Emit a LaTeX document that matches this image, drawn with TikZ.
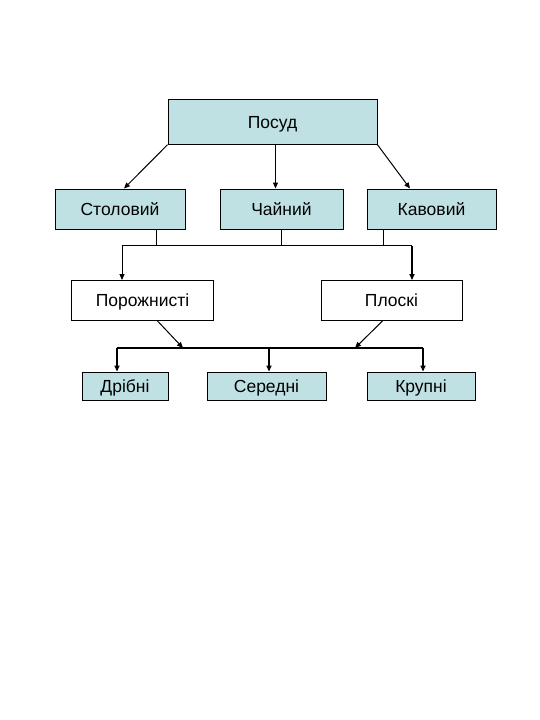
\documentclass[tikz,border=0pt]{standalone}
\usepackage{fontspec}
\setmainfont{Liberation Sans}
\usetikzlibrary{arrows.meta,calc}
\definecolor{boxblue}{RGB}{192,225,228}
\tikzset{
  box/.style={draw=black, line width=0.9pt, inner sep=0pt, font=\fontsize{17.5}{20}\selectfont, text=black, text height=12.5pt, text depth=0pt},
  bluebox/.style={box, fill=boxblue},
  whitebox/.style={box, fill=white},
  conn/.style={draw=black, line width=1pt},
  arr/.style={conn, -{Triangle[length=6pt,width=5pt]}},
  thickarr/.style={arr, line width=1.5pt},
}
\begin{document}
\begin{tikzpicture}[x=1pt,y=-1pt]
\useasboundingbox[fill=white] (0,0) rectangle (540,720);
% nodes
\node[bluebox, minimum width=209pt, minimum height=45pt] (posud) at (272.5,121.75) {Посуд};
\node[bluebox, minimum width=130pt, minimum height=40pt] (stol) at (120,209) {Столовий};
\node[bluebox, minimum width=123pt, minimum height=40pt] (chai) at (281.5,209) {Чайний};
\node[bluebox, minimum width=129pt, minimum height=40pt] (kav) at (431.5,209) {Кавовий};
\node[whitebox, minimum width=142pt, minimum height=40pt] (por) at (142.5,300.5) {Порожнисті};
\node[whitebox, minimum width=141pt, minimum height=40pt] (plo) at (391.5,300.5) {Плоскі};
\node[bluebox, minimum width=86pt, minimum height=28pt] (dri) at (125,386) {Дрібні};
\node[bluebox, minimum width=119pt, minimum height=28pt] (ser) at (266.5,386) {Середні};
\node[bluebox, minimum width=108pt, minimum height=28pt] (kru) at (421,386) {Крупні};
% level 1 arrows
\draw[arr] (posud.south west) -- ([xshift=4pt]stol.north);
\draw[arr] ([xshift=3pt]posud.south) -- ([xshift=3pt]posud.south |- chai.north);
\draw[arr] (posud.south east) -- ([xshift=-21.5pt]kav.north);
% bus 1
\coordinate (b1L) at (122,245.5);
\coordinate (b1R) at (412,245.5);
\draw[conn] ([xshift=36pt]stol.south) -- ([xshift=36pt]stol.south |- b1L);
\draw[conn] (chai.south) -- (chai.south |- b1L);
\draw[conn] ([xshift=-48.5pt]kav.south) -- ([xshift=-48.5pt]kav.south |- b1L);
\draw[conn] (b1L) -- (b1R);
\draw[arr] (b1L) -- (b1L |- por.north);
\draw[thickarr] (b1R) -- (b1R |- plo.north);
% bus 2
\coordinate (b2L) at (117,348);
\coordinate (b2R) at (423,348);
\coordinate (b2M) at (269,348);
\coordinate (j1) at (183,348);
\coordinate (j2) at (355,348);
\draw[arr] ([xshift=15pt]por.south) -- (j1);
\draw[arr] ([xshift=-9pt]plo.south) -- (j2);
\draw[conn, line width=1.2pt] (b2L) -- (b2R);
\draw[thickarr] (b2L) -- (b2L |- dri.north);
\draw[thickarr] (b2M) -- (b2M |- ser.north);
\draw[thickarr] (b2R) -- (b2R |- kru.north);
\end{tikzpicture}
\end{document}
